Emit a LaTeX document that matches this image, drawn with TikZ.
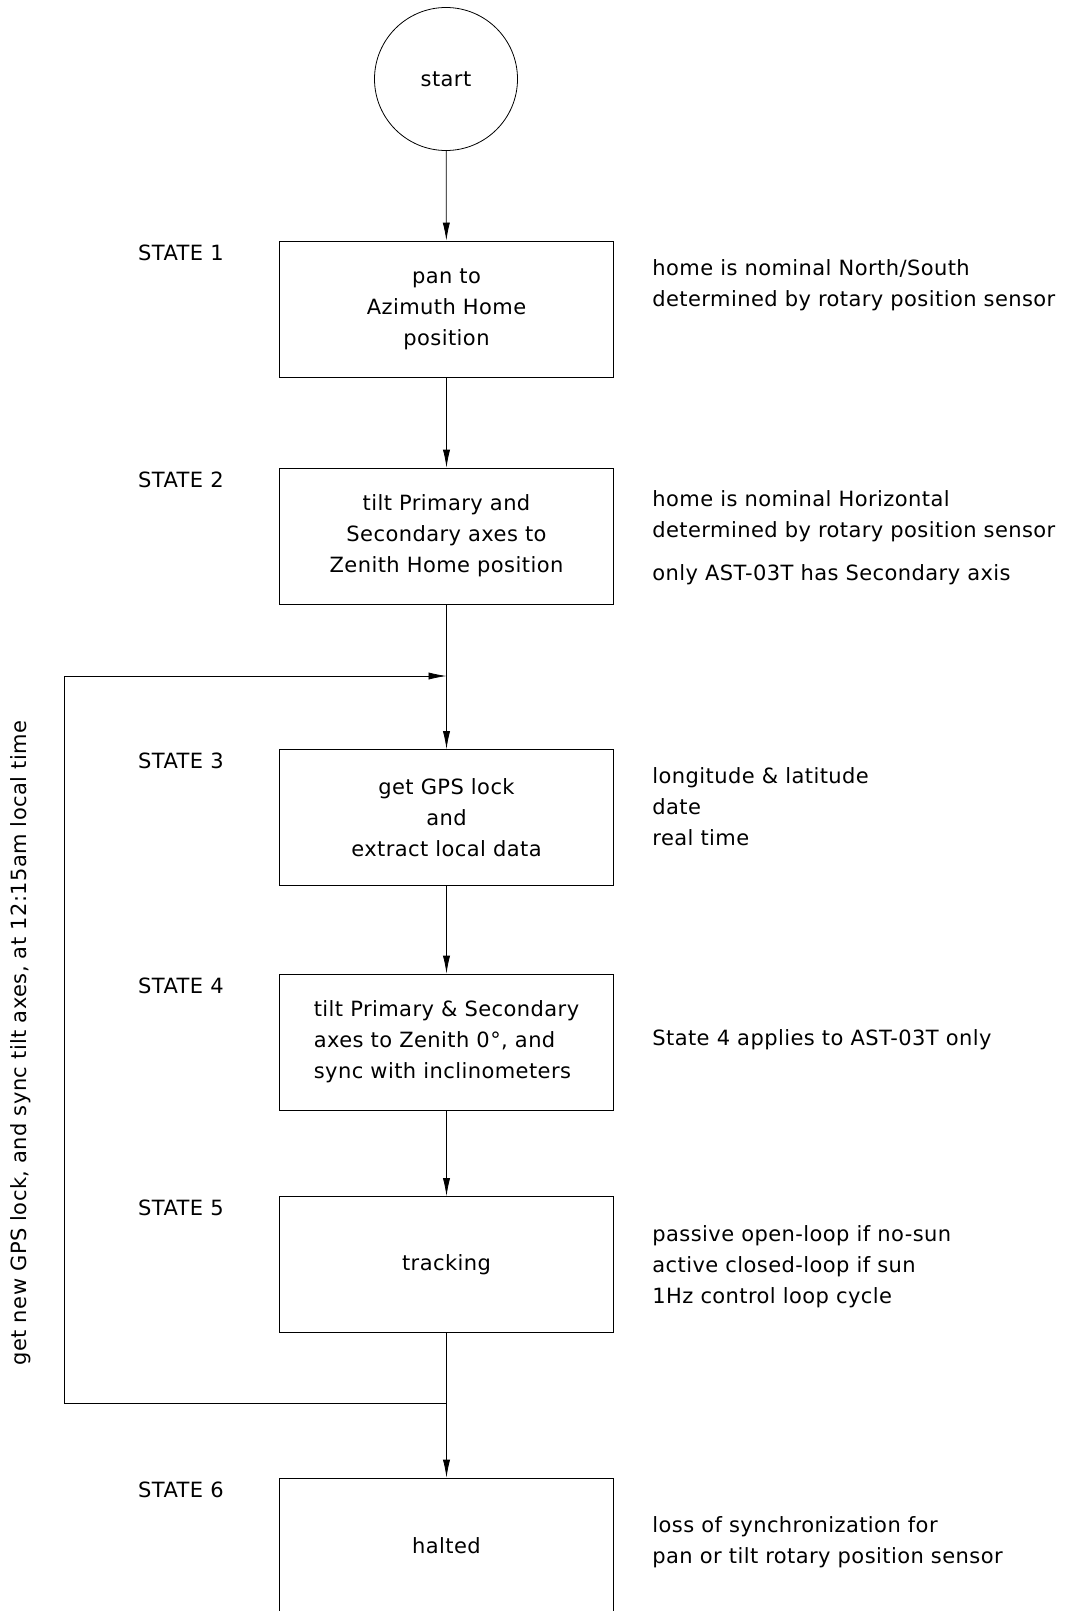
\documentclass[tikz,border=0pt]{standalone}
\usepackage{fontspec}
\setmainfont{DejaVu Sans}[LetterSpace=2]
\usepackage{tikz}
\usetikzlibrary{arrows.meta,positioning}
\tikzset{
    state-box/.style = {draw, thin, rectangle, minimum width=167pt, minimum height=68pt, align=center},
    state-label/.style = {inner sep=0pt},
    note-text/.style = {anchor=west, align=left, inner sep=0pt},
    start-circle/.style = {draw, thin, circle, minimum size=71.5pt, inner sep=0pt},
    flow-arrow/.style = {thin, -{Latex[length=9pt,width=3.6pt]}},
}

\begin{document}
\begin{tikzpicture}[x=0.5pt,y=0.5pt,font=\fontsize{10.5}{15.5}\selectfont]
\useasboundingbox (0,0) rectangle (1074,-1611);

% states
\node [start-circle] (start) at (446,-79) {start};
\node [state-box] (s1) at (446.5,-309) {pan to\\Azimuth Home\\position};
\node [state-box] (s2) at (446.5,-536) {tilt Primary and\\Secondary axes to\\Zenith Home position};
\node [state-box] (s3) at (446.5,-817.5) {get GPS lock\\and\\extract local data};
\node [state-box, align=left] (s4) at (446.5,-1042) {tilt Primary \& Secondary\\axes to Zenith 0°, and\\sync with inclinometers};
\node [state-box] (s5) at (446.5,-1264.5) {tracking};
\node [state-box] (s6) at (446.5,-1546) {halted};

% labels on the left
\foreach \n in {1,...,6}{
    \node [state-label, left=27.5pt, yshift=-6pt] (l\n) at (s\n.north west) {STATE \n};
}

% notes on the right
\node [note-text] (n1) at (652,-285.5) {home is nominal North/South\\determined by rotary position sensor};
\node [note-text] (n2) at (652,-538) {home is nominal Horizontal\\determined by rotary position sensor\\[6pt]only AST-03T has Secondary axis};
\node [note-text] (n3) at (652,-807) {longitude \& latitude\\date\\real time};
\node [note-text] (n4) at (652,-1040) {State 4 applies to AST-03T only};
\node [note-text] (n5) at (652,-1267) {passive open-loop if no-sun\\active closed-loop if sun\\1Hz control loop cycle};
\node [note-text] (n6) at (652,-1542.5) {loss of synchronization for\\pan or tilt rotary position sensor};

% flow
\draw [flow-arrow] (start) -- (s1);
\draw [flow-arrow] (s1) -- (s2);
\draw [flow-arrow] (s2) -- (s3);
\draw [flow-arrow] (s3) -- (s4);
\draw [flow-arrow] (s4) -- (s5);
\draw [flow-arrow] (s5) -- (s6);

% daily resync loop
\coordinate (split) at (446.5,-1403);
\coordinate (merge) at (446.5,-676);
\coordinate (loop-low) at (64,-1403);
\coordinate (loop-high) at (64,-676);
\draw [flow-arrow] (split) -- (loop-low) -- (loop-high) -- (merge);
\node [rotate=90, inner sep=0pt] (loop-text) at (20.5,-1043) {get new GPS lock, and sync tilt axes, at 12:15am local time};
\end{tikzpicture}
\end{document}
